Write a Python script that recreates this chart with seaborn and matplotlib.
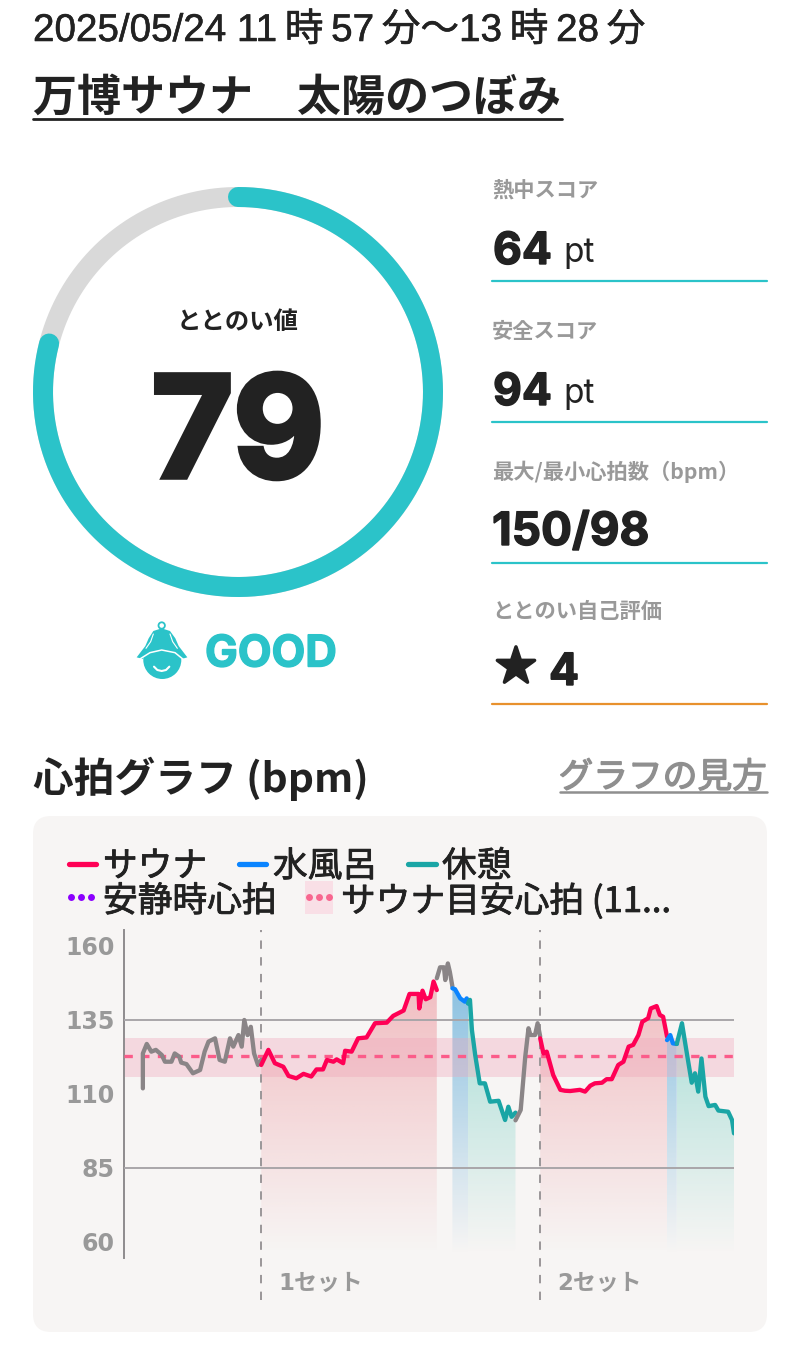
import numpy as np
import matplotlib
matplotlib.use("Agg")
import matplotlib.pyplot as plt
import matplotlib.patheffects as pe
import seaborn as sns
from matplotlib.colors import to_rgb
from matplotlib.patches import Circle, FancyBboxPatch, Polygon, Rectangle

sns.set_theme(style="white")
plt.rcParams['font.family'] = ['Noto Sans CJK JP', 'DejaVu Sans']

# ─── DATA ─────────────────────────────────────────────────────────────────────
# x = minutes since 11:57, y = bpm
IDLE1_T = [0, 0, 0.6, 1.3, 2.0, 2.9, 3.4, 4.4, 4.9, 5.6, 5.9, 6.7, 7.7, 8.8, 9.5, 10.1, 11.1, 11.8, 12.6,
           13.4, 13.9, 14.7, 15.2, 15.6, 16.1, 16.6, 17.1, 17.7, 18.2]
IDLE1_V = [111.9, 123.7, 126.9, 124.3, 124.9, 123.2, 120.9, 120.9, 123.7, 122.6, 120.6, 120.1, 117, 118.1,
           124.3, 127.7, 128.8, 121.5, 120.9, 128.8, 126, 129.9, 126, 135, 129.9, 132.7, 123.7, 119.8, 121.5]
SAUNA1_T = [18.2, 19.3, 20.3, 21.6, 22.4, 23.6, 24.7, 25.9, 26.7, 27.7, 28.3, 29.3, 29.8, 30.8, 31.1, 32.1,
            33.1, 34.4, 35.7, 37.5, 38.5, 40.1, 41.0, 42.4, 42.5, 43.0, 43.5, 44.2, 44.7, 45.2]
SAUNA1_V = [119.8, 124.9, 120.4, 119.2, 116.1, 115.3, 116.8, 115.9, 118.3, 118.3, 121.5, 120.9, 121.7, 120.4,
            124.6, 124.3, 128.8, 129.1, 133.9, 134.1, 136.4, 138.2, 143.8, 143.8, 138.9, 144.9, 142, 142.7,
            148, 145.1]
IDLE2_T = [45.2, 45.7, 46.3, 46.5, 46.9, 47.2, 47.6]
IDLE2_V = [149.1, 152.8, 152.8, 148.5, 154.1, 151.3, 146.3]
COLD1_T = [47.6, 48.0, 48.8, 49.5, 49.8, 50.0]
COLD1_V = [145.7, 145.4, 142.3, 141.2, 142.3, 140.6]
REST1_T = [50.0, 50.3, 50.6, 51.1, 51.8, 52.6, 53.4, 54.7, 55.7, 56.2, 56.7, 57.3]
REST1_V = [140.6, 141.8, 131.6, 123.2, 113.6, 113.6, 107.4, 107.7, 101.2, 105.7, 102.3, 103.7]
IDLE3_T = [57.3, 58.1, 58.8, 59.3, 59.6, 60.3, 60.7, 61.1]
IDLE3_V = [101.1, 104.6, 122.6, 132.2, 129.9, 129.9, 133.9, 129.4]
SAUNA2_T = [61.1, 61.6, 62.1, 63.1, 64.2, 64.9, 65.7, 67.2, 68.0, 68.8, 69.5, 70.6, 71.3, 72.1, 73.1, 73.9,
            74.7, 75.4, 76.2, 76.8, 77.7, 78.1, 79.0, 79.5, 80.0, 80.6]
SAUNA2_V = [128.8, 123.7, 124.3, 116.4, 111.4, 111.1, 111, 111.4, 110.8, 112.8, 113.6, 113.8, 115, 115, 119.8,
            120.9, 126, 126.6, 129.9, 134.4, 135.6, 138.9, 139.7, 136.7, 136.1, 129.4]
COLD2_T = [80.6, 81.1, 81.5, 82.1]
COLD2_V = [128.2, 129.9, 127.1, 126.9]
REST2_T = [82.1, 82.9, 83.4, 83.9, 84.4, 84.9, 85.4, 85.9, 86.5, 87, 88, 88.5, 90, 90.6, 90.9]
REST2_V = [126.9, 133.9, 127.1, 120.4, 113.8, 117, 110.8, 122, 109.1, 105.9, 106.3, 104.4, 104, 101.2, 96.7]

SET_STARTS = [18.2, 61.1]
SET_LABELS = ["1セット", "2セット"]
TARGET_LOW, TARGET_HIGH, TARGET_MID = 115.7, 128.9, 123
YTICKS = [60, 85, 110, 135, 160]
GRID_LINES = [85, 135]

SCORE = 79
SIDE_LABELS = ["熱中スコア", "安全スコア", "最大/最小心拍数（bpm）", "ととのい自己評価"]

# ─── STYLE ────────────────────────────────────────────────────────────────────
TEAL_UI = "#2bc3c9"
INK = "#222222"
MUTED = "#999999"
SAUNA = "#ff0055"
COLD = "#0a84ff"
REST = "#1aa5a5"
IDLE = "#8a8587"
PANEL = "#f7f5f4"
HEAVY = "Inter"
LATIN_CJK = ["Liberation Sans", "Noto Sans CJK JP", "DejaVu Sans"]


def thicker(color, w):
    # fake the heavier weights the installed fonts don't have
    return [pe.withStroke(linewidth=w, foreground=color, joinstyle="miter")]


def gradient_fill(ax, x, y, color, top_alpha):
    """Vertical fade under a curve, clipped to the curve's outline."""
    poly = ax.fill_between(x, y, 56, color="none", linewidth=0)
    rgb = to_rgb(color)
    grad = np.zeros((256, 1, 4))
    grad[..., :3] = rgb
    grad[:, 0, 3] = np.linspace(0, top_alpha, 256)
    img = ax.imshow(grad, extent=[x[0], x[-1], 56, 160], origin="lower", aspect="auto", zorder=1)
    img.set_clip_path(poly.get_paths()[0], ax.transData)


def draw_mascot(ax):
    # icon traced in a 240x90 crop, offset back to page pixels
    def px(pts):
        return [(120 + a / 3, 610 + b / 3) for a, b in pts]

    ax.add_patch(Circle((162.3, 660), 19, color=TEAL_UI, lw=0))
    ax.add_patch(Polygon(px([(125, 55), (150, 63), (166, 85), (176, 108), (202, 142), (185, 147), (165, 125),
                             (125, 118), (85, 125), (68, 147), (50, 142), (76, 108), (86, 85), (100, 63)]),
                         color=TEAL_UI, lw=0))
    ax.add_patch(Circle((161.7, 625.5), 3.2, fill=False, ec=TEAL_UI, lw=1.3))
    x, y = zip(*px([(58, 148), (90, 128), (125, 120), (165, 128), (192, 150)]))
    ax.plot(x, y, color="white", lw=1.1)
    x, y = zip(*px([(102, 170), (112, 180), (125, 183), (138, 180), (148, 170)]))
    ax.plot(x, y, color="white", lw=1.5, solid_capstyle="round")
    x, y = zip(*px([(78, 115), (92, 95), (100, 72)]))
    ax.plot(x, y, color="white", lw=0.8)
    x, y = zip(*px([(172, 115), (158, 95), (150, 72)]))
    ax.plot(x, y, color="white", lw=0.8)


def main():
    fig = plt.figure(figsize=(8, 13.46), dpi=100, facecolor="white")

    # page layer in pixel units, y pointing down
    page = fig.add_axes([0, 0, 1, 1])
    page.set_xlim(0, 800)
    page.set_ylim(1346, 0)
    page.axis("off")

    page.text(33, 31, "2025/05/24 11\u2009時\u200957\u2009分〜13\u2009時\u200928\u2009分", fontsize=27.8,
              family=LATIN_CJK, color=INK, va="center", path_effects=thicker(INK, 0.4))
    page.text(33, 98, "万博サウナ　太陽のつぼみ", fontsize=31.7, fontweight="bold", color=INK, va="center")
    page.plot([33, 562], [118.5, 118.5], color=INK, lw=2)

    # score ring
    theta = np.linspace(0, 2 * np.pi, 400)
    cx, cy, r = 238, 392, 195
    page.plot(cx + r * np.sin(theta), cy - r * np.cos(theta), color="#d9d9d9", lw=14.4)
    theta = np.linspace(0, 2 * np.pi * SCORE / 100, 400)
    page.plot(cx + r * np.sin(theta), cy - r * np.cos(theta), color=TEAL_UI, lw=14.4, solid_capstyle="round")
    page.text(238, 322, "ととのい値", fontsize=17.6, fontweight="bold", color=INK, ha="center", va="center")
    page.text(238, 440, str(SCORE), fontsize=101, fontweight="bold", family=HEAVY, color=INK,
              ha="center", va="center", path_effects=thicker(INK, 4))

    draw_mascot(page)
    page.text(205, 655, "GOOD", fontsize=31.5, fontweight="bold", family=HEAVY, color=TEAL_UI, va="center",
              path_effects=thicker(TEAL_UI, 1))

    # right column
    for lab, y in zip(SIDE_LABELS, [190, 331, 472, 612]):
        page.text(492, y, lab, fontsize=15.3, fontweight="bold", color=MUTED, va="center")
    page.text(493, 252, "64", fontsize=32, fontweight="bold", family=HEAVY, color=INK, va="center",
              path_effects=thicker(INK, 1))
    page.text(563, 253, "pt", fontsize=24, family=HEAVY, color=INK, va="center")
    page.text(493, 393, "94", fontsize=32, fontweight="bold", family=HEAVY, color=INK, va="center",
              path_effects=thicker(INK, 1))
    page.text(563, 394, "pt", fontsize=24, family=HEAVY, color=INK, va="center")
    page.text(492, 533, "150/98", fontsize=33, fontweight="bold", family=HEAVY, color=INK, va="center",
              path_effects=thicker(INK, 1))
    page.text(516, 668, "★", fontsize=35, family="DejaVu Sans", color=INK, ha="center", va="center",
              path_effects=[pe.withStroke(linewidth=2.5, foreground=INK, joinstyle="round")])
    page.text(549, 673, "4", fontsize=32, fontweight="bold", family=HEAVY, color=INK, va="center",
              path_effects=thicker(INK, 1))
    for y, c in zip([281, 422, 563, 703.5], [TEAL_UI, TEAL_UI, TEAL_UI, "#e8912d"]):
        page.plot([492, 767], [y, y], color=c, lw=1.6)

    # chart header
    page.text(33, 779, "心拍グラフ (bpm)", fontsize=29.3, fontweight="bold", color=INK, va="center")
    page.text(767, 778, "グラフの見方", fontsize=25, color="#8f8f8f", ha="right", va="center",
              path_effects=thicker("#8f8f8f", 1))
    page.plot([560, 767], [792, 792], color="#8f8f8f", lw=1.8)

    # panel and legend
    page.add_patch(FancyBboxPatch((33, 816), 734, 516, boxstyle="round,pad=0,rounding_size=18", mutation_scale=1,
                                  fc=PANEL, ec="none", lw=0))
    page.plot([69, 96], [864, 864], color=SAUNA, lw=3.8, solid_capstyle="round")
    page.plot([239, 266], [864, 864], color=COLD, lw=3.8, solid_capstyle="round")
    page.plot([408, 436], [864, 864], color=REST, lw=3.8, solid_capstyle="round")
    page.add_patch(Rectangle((305, 881), 28, 33, color="#f9dfe6", lw=0))
    page.plot([71, 81, 91], [897, 897, 897], ls="none", marker="o", ms=5, color="#8b00ff", mew=0)
    page.plot([309, 319, 329], [897, 897, 897], ls="none", marker="o", ms=5, color="#f8668f", mew=0)
    for x, y, lab in [(103, 867, "サウナ"), (273, 867, "水風呂"), (442, 867, "休憩"),
                      (103, 902, "安静時心拍"), (341, 902, "サウナ目安心拍 (11...")]:
        page.text(x, y, lab, fontsize=25, color=INK, va="center", path_effects=thicker(INK, 0.6))

    # heart-rate chart, 124..734 px wide and 930..1300 px tall
    ax = fig.add_axes([124 / 800, 1 - 1300 / 1346, 610 / 800, 370 / 1346], facecolor="none")

    gradient_fill(ax, SAUNA1_T, SAUNA1_V, "#e85f6c", 0.42)
    gradient_fill(ax, SAUNA2_T, SAUNA2_V, "#e85f6c", 0.42)
    gradient_fill(ax, COLD1_T, COLD1_V, "#4ba3d6", 0.72)
    gradient_fill(ax, COLD2_T, COLD2_V, "#4ba3d6", 0.72)
    gradient_fill(ax, REST1_T, REST1_V, "#3cbfae", 0.5)
    gradient_fill(ax, REST2_T, REST2_V, "#3cbfae", 0.5)

    ax.axhspan(TARGET_LOW, TARGET_HIGH, color="#f0a4b8", alpha=0.35, lw=0, zorder=2)
    ax.axhline(TARGET_MID, color="#fb5c8a", lw=2.4, dashes=(2.5, 2.5), zorder=3)
    for g in GRID_LINES:
        ax.axhline(g, color="#a9a6a9", lw=1.4, zorder=3)
    for s in SET_STARTS:
        ax.axvline(s, color="#9a9698", lw=1.4, dashes=(4.3, 4.3), zorder=3)

    segments = [(IDLE1_T, IDLE1_V, IDLE), (SAUNA1_T, SAUNA1_V, SAUNA), (IDLE2_T, IDLE2_V, IDLE),
                (COLD1_T, COLD1_V, COLD), (REST1_T, REST1_V, REST), (IDLE3_T, IDLE3_V, IDLE),
                (SAUNA2_T, SAUNA2_V, SAUNA), (COLD2_T, COLD2_V, COLD), (REST2_T, REST2_V, REST)]
    for t, v, c in segments:
        sns.lineplot(x=t, y=v, sort=False, estimator=None, errorbar=None, color=c, lw=3.1, ax=ax, zorder=4)

    for s, lab in zip(SET_STARTS, SET_LABELS):
        ax.text(s + 2.6, 46, lab, fontsize=16.5, fontweight="bold", family=["DejaVu Sans", "Noto Sans CJK JP"],
                color=MUTED, va="center")

    ax.set_xlim(-2.9, 90.9)
    ax.set_ylim(40.4, 165.4)
    ax.set_xticks([])
    ax.set_yticks(YTICKS)
    ax.tick_params(axis="y", length=0, pad=7, labelsize=17, labelcolor=MUTED)
    for lab in ax.get_yticklabels():
        lab.set_fontweight("bold")
        lab.set_family("DejaVu Sans")
    sns.despine(ax=ax, top=True, right=True, bottom=True)
    ax.spines["left"].set_bounds(54.6, 165.4)
    ax.spines["left"].set_color("#8f8c8e")
    ax.spines["left"].set_linewidth(1.4)

    fig.savefig("out.png", dpi=100)


if __name__ == "__main__":
    main()
